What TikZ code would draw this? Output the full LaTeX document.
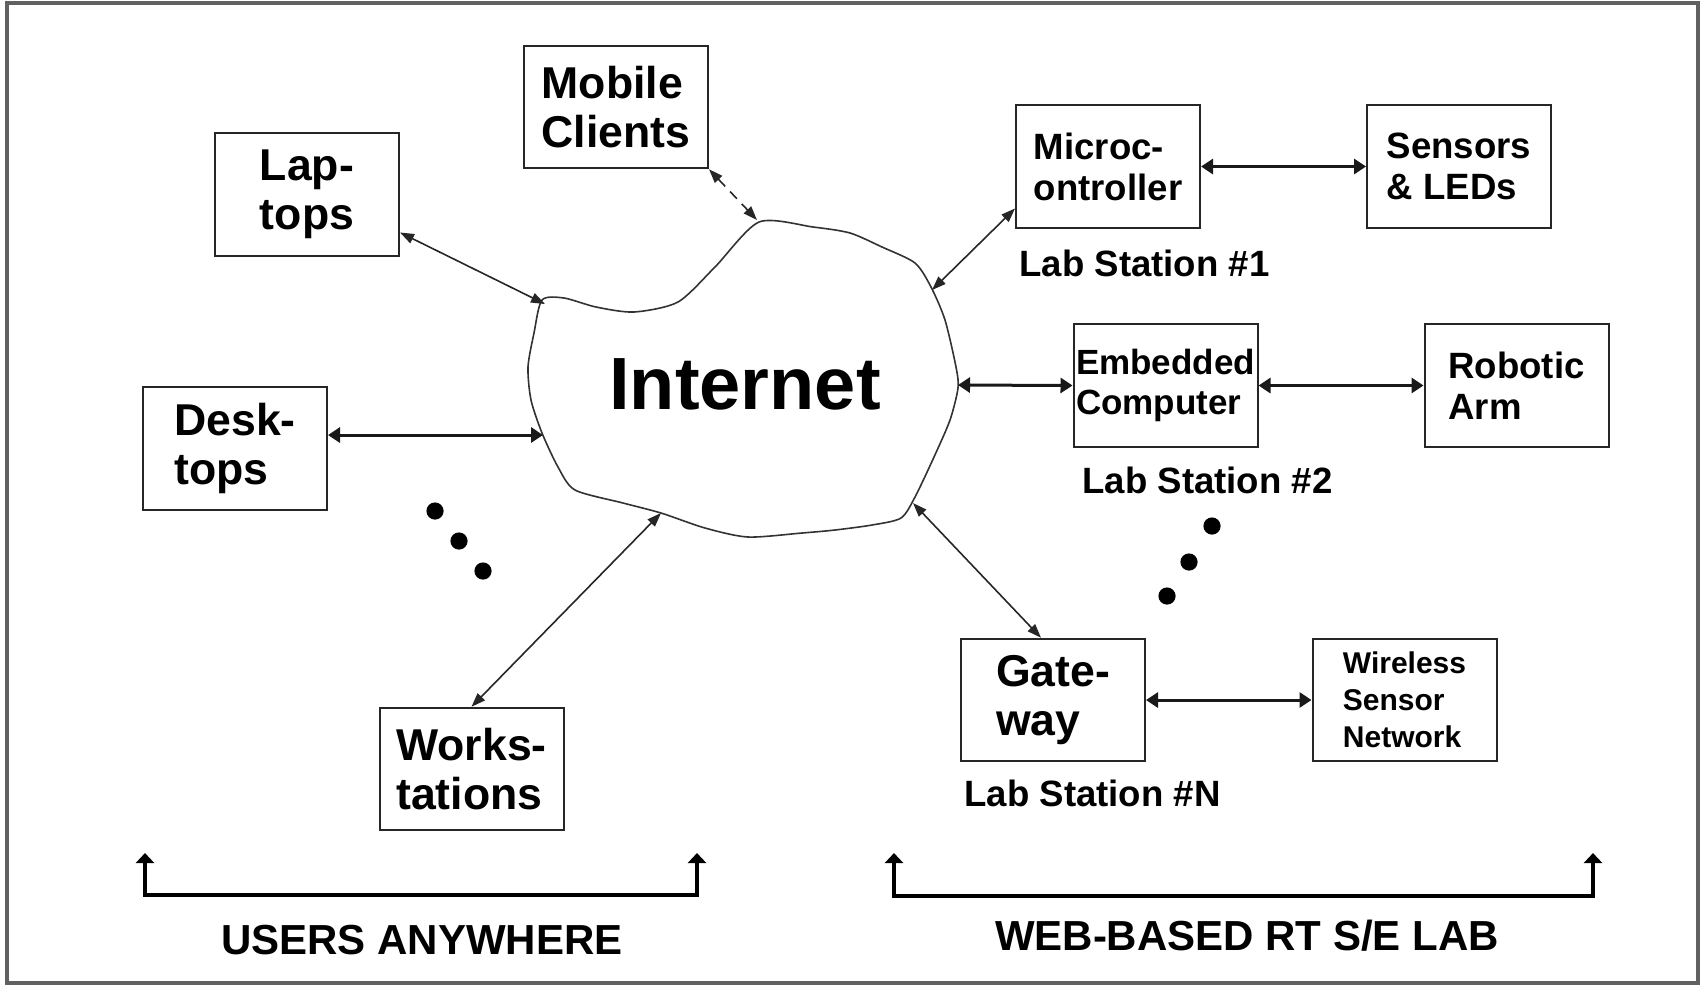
\documentclass[tikz,border=0pt]{standalone}
\usepackage{fontspec}
\setmainfont{Liberation Sans}
\usetikzlibrary{arrows.meta}
\begin{document}
\begin{tikzpicture}[x=0.5pt,y=-0.5pt,
  box/.style={draw=black!85, line width=1pt, minimum width=92pt, minimum height=61.25pt,
    inner sep=0pt, align=left},
  bigtxt/.style={font=\fontsize{22.3}{24.5}\selectfont\bfseries},
  midtxt/.style={font=\fontsize{18.3}{20.5}\selectfont\bfseries},
  smalltxt/.style={font=\fontsize{15}{18.5}\selectfont\bfseries},
  lbl/.style={font=\fontsize{18.3}{20.5}\selectfont\bfseries, inner sep=0pt, anchor=west},
  foot/.style={font=\fontsize{21}{24}\selectfont\bfseries, inner sep=0pt},
  thin/.style={line width=0.8pt, black!85, {Triangle[length=7pt,width=5pt]}-{Triangle[length=7pt,width=5pt]}},
  thick/.style={line width=1.5pt, black!90, {Triangle[length=6pt,width=7.5pt]}-{Triangle[length=6pt,width=7.5pt]}},
  bracket/.style={line width=2pt, black, {Triangle[length=5pt,width=9pt]}-{Triangle[length=5pt,width=9pt]}},
  dotmark/.style={fill=black}
]
\useasboundingbox (0,0) rectangle (1700,987);
\draw[line width=2pt, black!62] (7,3) rectangle (1698,983);

% Internet cloud
\draw[line width=0.8pt, black!80] plot[smooth cycle, tension=0.45] coordinates {
  (759,222) (813,227) (850,233) (882,247) (915,263) (931,287) (945,320) (956,367)
  (958,388) (950,420) (934,457) (915,497) (901,518) (872,525) (835,530) (802,533)
  (748,537) (705,528) (661,513) (623,503) (575,490) (558,467) (542,433) (531,400)
  (528,367) (534,333) (542,300) (564,298) (596,307) (634,312) (678,302) (715,267)};
\node[font=\fontsize{37}{40}\selectfont\bfseries, inner sep=0pt] (inet) at (745,384) {Internet};

% cloud attachment points
\coordinate (cL) at (545,304);
\coordinate (cM) at (757,220);
\coordinate (cD) at (543,435);
\coordinate (cW) at (661,513);
\coordinate (cMi) at (932,290);
\coordinate (cE) at (958,385);
\coordinate (cG) at (913,503);

% boxes
\node[box, bigtxt] (mobile) at (616,107) {Mobile\\Clients};
\node[box, bigtxt] (laptops) at (307,194.5) {Lap-\\tops};
\node[box, bigtxt] (desktops) at (235,448.5) {Desk-\\tops};
\node[box, bigtxt] (works) at (471.5,769) {Works-\\tations};
\node[box, midtxt] (micro) at (1108,166.5) {Microc-\\ontroller};
\node[box, midtxt] (sensors) at (1459,166.5) {Sensors\\\& LEDs};
\node[box, font=\fontsize{17.5}{20}\selectfont\bfseries] (embedded) at (1165.5,385.5) {Embedded\\Computer};
\node[box, midtxt] (robotic) at (1516.5,385.5) {Robotic\\Arm};
\node[box, bigtxt] (gateway) at (1053,700) {Gate-\\way};
\node[box, smalltxt] (wsn) at (1404.5,700) {Wireless\\Sensor\\Network};

% labels
\node[lbl] (ls1) at (1019,263) {Lab Station \#1};
\node[lbl] (ls2) at (1082,480) {Lab Station \#2};
\node[lbl] (lsn) at (964,793) {Lab Station \#N};
\node[foot] (users) at (422,940) {USERS ANYWHERE};
\node[foot] (web) at (1247,936) {WEB-BASED RT S/E LAB};

% connectors
\draw[thin] ([yshift=-19pt]laptops.east) -- (cL);
\draw[line width=0.8pt, black!85, dashed, dash pattern=on 5pt off 3.5pt,
  {Triangle[length=7pt,width=5pt]}-{Triangle[length=7pt,width=5pt]}] (mobile.south east) -- (cM);
\draw[thick] ([yshift=6.75pt]desktops.east) -- (cD);
\draw[thin] (works.north) -- (cW);
\draw[thin] ([yshift=-21pt]micro.west) -- (cMi);
\draw[thick] (micro.east) -- (sensors.west);
\draw[thick] (cE) -- (embedded.west);
\draw[thick] (embedded.east) -- (robotic.west);
\draw[thin] ([xshift=-6pt]gateway.north) -- (cG);
\draw[thick] (gateway.east) -- (wsn.west);

% dots
\fill[dotmark] (435,511) circle (4.3pt);
\fill[dotmark] (459,541) circle (4.3pt);
\fill[dotmark] (483,571) circle (4.3pt);
\fill[dotmark] (1212,526) circle (4.3pt);
\fill[dotmark] (1189,562) circle (4.3pt);
\fill[dotmark] (1167,596) circle (4.3pt);

% brackets
\coordinate (ua1) at (145,853);
\coordinate (ua2) at (697,853);
\coordinate (ub) at (421,895);
\draw[bracket] (ua1) |- (ub) -| (ua2);
\coordinate (wa1) at (894,853);
\coordinate (wa2) at (1593,853);
\coordinate (wb) at (1243,896);
\draw[bracket] (wa1) |- (wb) -| (wa2);
\end{tikzpicture}
\end{document}
